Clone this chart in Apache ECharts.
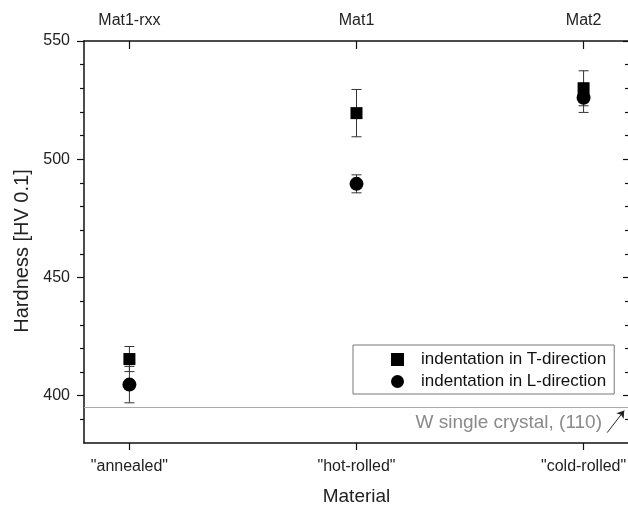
<!DOCTYPE html>
<html>
<head>
<meta charset="utf-8">
<script src="https://cdn.jsdelivr.net/npm/echarts@6/dist/echarts.min.js"></script>
<style>html,body{margin:0;padding:0;background:#fff}#c{width:628px;height:506px}</style>
</head>
<body>
<div id="c"></div>
<script>
// ---- data ----
var categories = ['"annealed"', '"hot-rolled"', '"cold-rolled"'];
var topLabels = ['Mat1-rxx', 'Mat1', 'Mat2'];
var positions = [1, 2, 3];
var tValues = [415.5, 519.5, 530];
var tErrors = [5.3, 10, 7.4];
var lValues = [404.7, 489.6, 526];
var lErrors = [7.7, 3.8, 6.2];
var singleCrystal = 395;
var yMajorTicks = [400, 450, 500, 550];
var yMinorTicks = [390, 410, 420, 430, 440, 460, 470, 480, 490, 510, 520, 530, 540];
var arrowFrom = [3.104, 384.4];
var arrowTo = [3.179, 393.7];

var FONT = 'Liberation Sans, Arial, sans-serif';

function pts(vals) { return positions.map(function (p, i) { return [p, vals[i]]; }); }
function errData(vals, errs) { return positions.map(function (p, i) { return [p, vals[i] - errs[i], vals[i] + errs[i]]; }); }

function errRender(params, api) {
  var x = api.value(0);
  var lo = api.coord([x, api.value(1)]);
  var hi = api.coord([x, api.value(2)]);
  var hw = 5;
  var st = { stroke: '#333', lineWidth: 1 };
  return {
    type: 'group',
    children: [
      { type: 'line', shape: { x1: lo[0], y1: lo[1], x2: hi[0], y2: hi[1] }, style: st },
      { type: 'line', shape: { x1: lo[0] - hw, y1: lo[1], x2: lo[0] + hw, y2: lo[1] }, style: st },
      { type: 'line', shape: { x1: hi[0] - hw, y1: hi[1], x2: hi[0] + hw, y2: hi[1] }, style: st }
    ]
  };
}

var chart = echarts.init(document.getElementById('c'), null, { renderer: 'canvas' });
var axisLineStyle = { color: '#111', width: 1.5 };
chart.setOption({
  animation: false,
  textStyle: { fontFamily: FONT },
  grid: { left: 84, top: 41, width: 545, height: 402, containLabel: false, outerBoundsMode: 'none' },
  xAxis: [
    {
      type: 'value', position: 'bottom', min: 0.8, max: 3.2,
      name: 'Material', nameLocation: 'middle', nameGap: 44,
      nameTextStyle: { fontSize: 19, color: '#222', fontFamily: FONT },
      axisLine: { show: true, lineStyle: axisLineStyle },
      axisTick: { show: true, inside: false, length: 7, customValues: positions, lineStyle: { color: '#111', width: 1.2 } },
      axisLabel: { customValues: positions, fontSize: 16, color: '#222', margin: 16, fontFamily: FONT,
        formatter: function (v) { return categories[Math.round(v) - 1]; } },
      splitLine: { show: false }
    },
    {
      type: 'value', position: 'top', min: 0.8, max: 3.2,
      axisLine: { show: true, lineStyle: axisLineStyle },
      axisTick: { show: true, inside: true, length: 8, customValues: positions, lineStyle: { color: '#111', width: 1.2 } },
      axisLabel: { customValues: positions, fontSize: 16, color: '#222', margin: 12, fontFamily: FONT,
        formatter: function (v) { return topLabels[Math.round(v) - 1]; } },
      splitLine: { show: false }
    }
  ],
  yAxis: [
    {
      type: 'value', position: 'left', min: 380, max: 550,
      name: 'Hardness [HV 0.1]', nameLocation: 'middle', nameGap: 52, nameRotate: 90,
      nameTextStyle: { fontSize: 20, color: '#222', fontFamily: FONT, padding: [0, 18, 0, 0] },
      axisLine: { show: true, lineStyle: axisLineStyle },
      axisTick: { show: true, inside: false, length: 7, customValues: yMajorTicks, lineStyle: { color: '#111', width: 1.2 } },
      axisLabel: { customValues: yMajorTicks, fontSize: 16, color: '#222', margin: 14, fontFamily: FONT },
      splitLine: { show: false }
    },
    {
      type: 'value', position: 'left', min: 380, max: 550,
      axisLine: { show: false },
      axisTick: { show: true, inside: false, length: 4, customValues: yMinorTicks, lineStyle: { color: '#111', width: 1.2 } },
      axisLabel: { show: false },
      splitLine: { show: false }
    },
    {
      type: 'value', position: 'right', min: 380, max: 550,
      axisLine: { show: true, lineStyle: axisLineStyle },
      axisTick: { show: true, inside: true, length: 6, customValues: yMajorTicks, lineStyle: { color: '#111', width: 1.2 } },
      axisLabel: { show: false },
      splitLine: { show: false }
    },
    {
      type: 'value', position: 'right', min: 380, max: 550,
      axisLine: { show: false },
      axisTick: { show: true, inside: true, length: 4, customValues: yMinorTicks, lineStyle: { color: '#111', width: 1.2 } },
      axisLabel: { show: false },
      splitLine: { show: false }
    }
  ],
  legend: {
    left: 353, top: 345, orient: 'vertical',
    borderColor: '#777', borderWidth: 1, padding: [6, 8, 4, 38],
    itemWidth: 13, itemHeight: 13, itemGap: 5, selectedMode: false,
    textStyle: { fontSize: 17, color: '#111', fontFamily: FONT, padding: [0, 0, 0, 12] },
    data: [
      { name: 'indentation in T-direction', icon: 'rect', itemStyle: { color: '#000', opacity: 1 } },
      { name: 'indentation in L-direction', icon: 'circle', itemStyle: { color: '#000', opacity: 1 } }
    ]
  },
  graphic: [
    { type: 'text', right: 26, top: 413, z: 10,
      style: { text: 'W single crystal, (110)', fill: '#8a8a8a', fontSize: 19, fontFamily: FONT } }
  ],
  series: [
    { type: 'custom', name: 'errT', renderItem: errRender, data: errData(tValues, tErrors), z: 1, silent: true },
    { type: 'custom', name: 'errL', renderItem: errRender, data: errData(lValues, lErrors), z: 1, silent: true },
    {
      type: 'scatter', name: 'indentation in T-direction', symbol: 'rect', symbolSize: 12,
      itemStyle: { color: '#000', opacity: 1 }, data: pts(tValues), z: 3,
      markLine: {
        silent: true, symbol: ['none', 'none'], label: { show: false },
        lineStyle: { color: '#aaa', width: 1, type: 'solid' },
        data: [{ yAxis: singleCrystal }]
      }
    },
    {
      type: 'scatter', name: 'indentation in L-direction', symbol: 'circle', symbolSize: 14,
      itemStyle: { color: '#000', opacity: 1 }, data: pts(lValues), z: 3,
      markLine: {
        silent: true, symbol: ['none', 'arrow'], symbolSize: 7, label: { show: false },
        lineStyle: { color: '#222', width: 1, type: 'solid' },
        data: [[{ coord: arrowFrom }, { coord: arrowTo }]]
      }
    }
  ]
});
</script>
</body>
</html>
